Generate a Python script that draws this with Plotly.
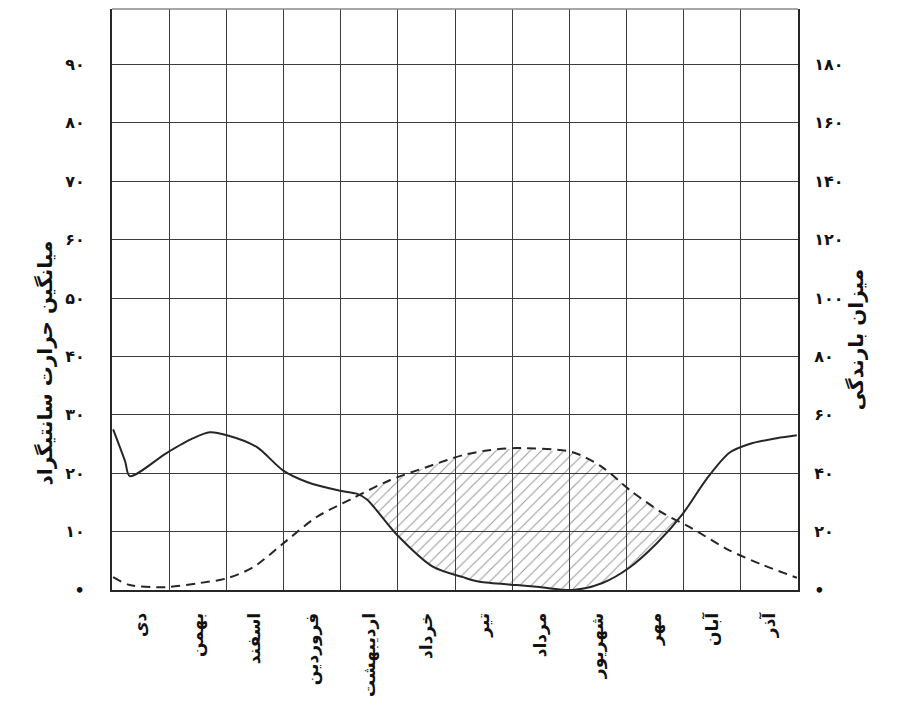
import numpy as np
import plotly.graph_objects as go

# ---------------- data ----------------
months = ["دی", "بهمن", "اسفند", "فروردین", "اردیبهشت", "خرداد",
          "تیر", "مرداد", "شهریور", "مهر", "آبان", "آذر"]

# temperature curve (dashed), position in months from start of دی, °C
temp_t = [0.02, 0.31, 0.96, 1.54, 2.01, 2.47, 3.06, 3.58, 4.21, 4.86, 5.61,
          6.14, 6.56, 7.08, 8.06, 8.58, 9.06, 9.63, 10.1, 10.8, 11.38, 11.98]
temp_v = [2.2, 0.85, 0.5, 1.2, 2.0, 3.9, 8.5, 12.5, 15.7, 18.8, 21.4,
          23.1, 23.9, 24.3, 23.6, 21.0, 17.1, 13.2, 10.8, 6.8, 4.3, 2.1]

# precipitation curve (solid), mm
prec_t = [0.02, 0.23, 0.31, 0.96, 1.42, 1.71, 2.01, 2.53, 2.99, 3.41, 3.99,
          4.28, 4.46, 4.98, 5.61, 6.14, 6.43, 7.08, 7.48, 8.06, 8.58, 9.06,
          9.53, 9.98, 10.4, 10.8, 11.15, 11.63, 11.98]
prec_v = [55, 44, 39, 47, 52, 54, 53, 49, 41, 37, 34,
          33, 31, 19, 8, 4.4, 2.8, 1.7, 1.0, 0.0, 2.4, 7.8,
          16, 26, 38, 47, 50, 52, 53]

temp_ticks = [0, 10, 20, 30, 40, 50, 60, 70, 80, 90]
temp_ticktext = ["•", "۱۰", "۲۰", "۳۰", "۴۰", "۵۰", "۶۰", "۷۰", "۸۰", "۹۰"]
prec_ticks = [0, 20, 40, 60, 80, 100, 120, 140, 160, 180]
prec_ticktext = ["•", "۲۰", "۴۰", "۶۰", "۸۰", "۱۰۰", "۱۲۰", "۱۴۰", "۱۶۰", "۱۸۰"]

temp_title = "میانگین حرارت سانتیگراد"
prec_title = "میزان بارندگی"

# ---------------- styling ----------------
INK = "#262626"
GRID = "#3c3c3c"
FONT = "DejaVu Sans"

fig = go.Figure()

# dry period: region where the temperature curve lies above precipitation/2
grid_t = np.linspace(min(temp_t), max(temp_t), 600)
tt = np.interp(grid_t, temp_t, temp_v)
pp = np.interp(grid_t, prec_t, np.array(prec_v) / 2.0)
mask = tt > pp
poly_x = list(grid_t[mask]) + list(grid_t[mask][::-1])
poly_y = list(tt[mask]) + list(pp[mask][::-1])
fig.add_trace(go.Scatter(
    x=poly_x, y=poly_y, mode="lines", fill="toself",
    line=dict(width=0, color="rgba(0,0,0,0)"),
    fillcolor="rgba(255,255,255,0)",
    fillpattern=dict(shape="/", fgcolor="#3a3a3a", bgcolor="rgba(255,255,255,0)",
                     size=8, solidity=0.14),
    hoverinfo="skip", showlegend=False, yaxis="y"))

fig.add_trace(go.Scatter(
    x=temp_t, y=temp_v, mode="lines", line=dict(color=INK, width=2, dash="9px,6px",
                                                shape="spline", smoothing=0.8),
    showlegend=False, yaxis="y"))

fig.add_trace(go.Scatter(
    x=prec_t, y=prec_v, mode="lines", line=dict(color=INK, width=2,
                                                shape="spline", smoothing=0.8),
    showlegend=False, yaxis="y2"))

YMAX = 99.5
TICKFONT = dict(size=16, family=FONT, color="#111", weight="bold")
fig.update_layout(
    width=907, height=716,
    margin=dict(l=104, r=117, t=1, b=134),
    paper_bgcolor="white", plot_bgcolor="white",
    font=dict(family=FONT, color=INK),
    xaxis=dict(
        range=[0, 12], tickmode="array",
        tickvals=[i + 0.5 for i in range(12)], ticktext=months,
        tickangle=-90, ticks="", showgrid=False, zeroline=False,
        showline=True, linecolor=INK, linewidth=2, automargin=False,
        tickfont=dict(size=17, family=FONT, color="#111", weight="bold"),
        ticklabelstandoff=14,
        minor=dict(tickmode="array", tickvals=list(range(13)), showgrid=True,
                   gridcolor=GRID, gridwidth=1.3, ticks=""),
    ),
    yaxis=dict(
        range=[0, YMAX], tickmode="array", tickvals=temp_ticks, ticktext=temp_ticktext,
        ticks="", showgrid=True, gridcolor=GRID, gridwidth=1.3, zeroline=False,
        showline=True, linecolor=INK, linewidth=2, automargin=False,
        tickfont=TICKFONT, ticklabelstandoff=22,
    ),
    yaxis2=dict(
        range=[0, 2 * YMAX], overlaying="y", side="right", tickmode="array",
        tickvals=prec_ticks, ticktext=prec_ticktext, ticks="", showgrid=False,
        zeroline=False, showline=True, linecolor=INK, linewidth=2, automargin=False,
        tickfont=TICKFONT, ticklabelstandoff=11,
    ),
    annotations=[
        dict(text=temp_title, textangle=-90, xref="paper", yref="paper",
             x=-0.118, y=0.39, showarrow=False,
             font=dict(size=20, family=FONT, color="#111", weight="bold")),
        dict(text=prec_title, textangle=-90, xref="paper", yref="paper",
             x=1.105, y=0.43, showarrow=False,
             font=dict(size=20, family=FONT, color="#111", weight="bold")),
    ],
    shapes=[dict(type="line", xref="paper", yref="paper", x0=0, x1=1, y0=1, y1=1,
                 line=dict(color="#8a8a8a", width=1.5))],
)

fig.write_html("out.html")
